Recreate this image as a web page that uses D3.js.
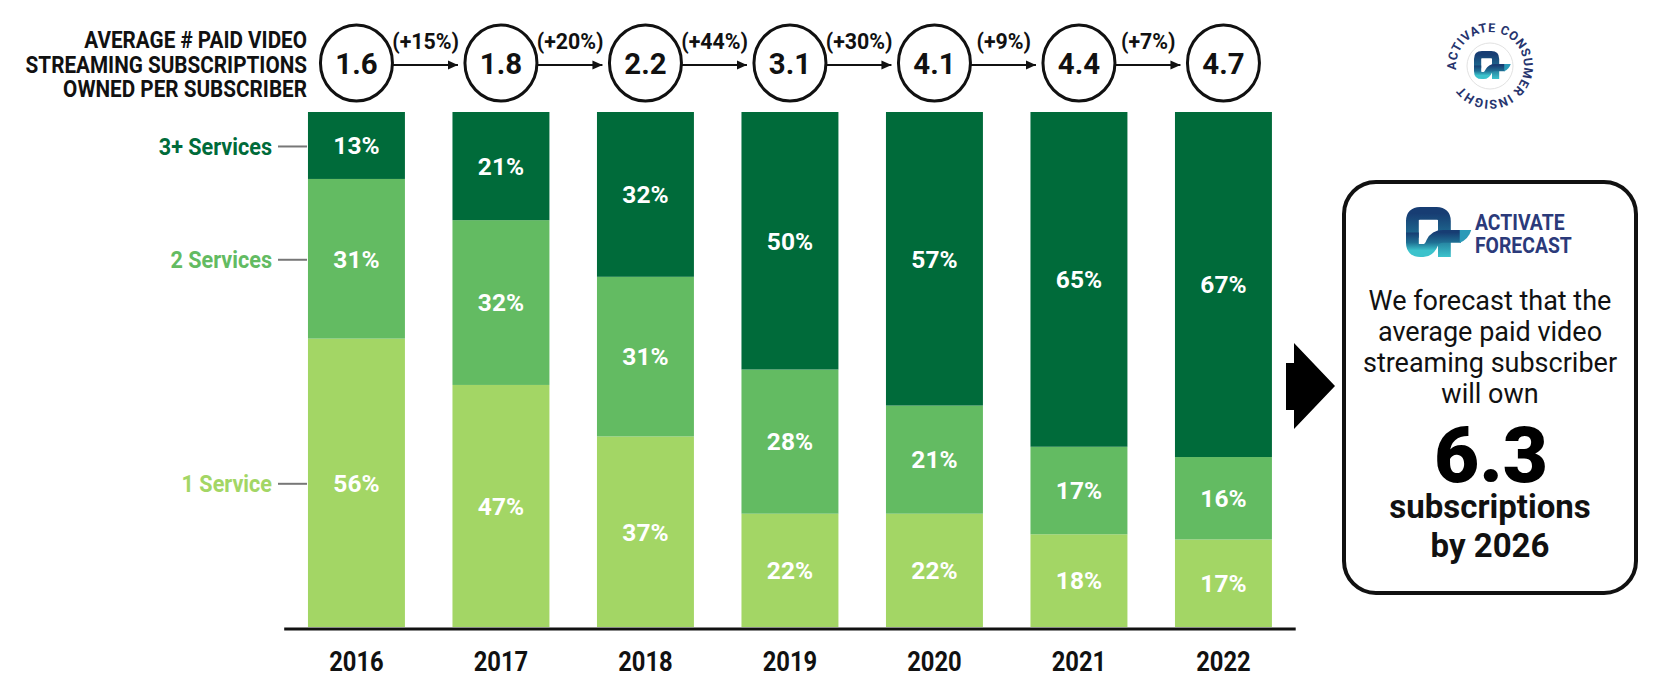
<!DOCTYPE html>
<html><head><meta charset="utf-8">
<script src="https://cdn.jsdelivr.net/npm/d3@7"></script>
<style>html,body{margin:0;padding:0;background:#fff;} svg{display:block;font-family:Roboto,"Noto Sans",sans-serif;}</style>
</head><body><svg id="c" width="1660" height="685"></svg>
<script>
// ---- data ----
const years = ["2016","2017","2018","2019","2020","2021","2022"];
const seriesNames = ["1 Service","2 Services","3+ Services"];
const oneService = [56,47,37,22,22,18,17];
const twoServices = [31,32,31,28,21,17,16];
const threePlus = [13,21,32,50,57,65,67];
const avgSubs = [1.6,1.8,2.2,3.1,4.1,4.4,4.7];
const growthLabels = ["(+15%)","(+20%)","(+44%)","(+30%)","(+9%)","(+7%)"];
const headerLines = ["AVERAGE # PAID VIDEO","STREAMING SUBSCRIPTIONS","OWNED PER SUBSCRIBER"];
const forecastBrand = ["ACTIVATE","FORECAST"];
const forecastLines = ["We forecast that the","average paid video","streaming subscriber","will own"];
const forecastValue = "6.3";
const forecastTail = ["subscriptions","by 2026"];
const ringText = "ACTIVATE CONSUMER INSIGHT";
const colors = ["#a3d665","#63bb62","#006b3a"];

const svg = d3.select("#c");
const rows = years.map((yr,i)=>({year:yr,"1 Service":oneService[i],"2 Services":twoServices[i],"3+ Services":threePlus[i]}));
const stack = d3.stack().keys(seriesNames)(rows);

const x = d3.scaleBand().domain(years).range([284.2,1295.7]).paddingInner(0.329).paddingOuter(0.1645);
const y = d3.scaleLinear().domain([0,100]).range([627,112]);
const color = d3.scaleOrdinal().domain(seriesNames).range(colors);

// defs
const defs = svg.append("defs");
defs.append("marker").attr("id","ah").attr("viewBox","0 0 10 10").attr("refX",10).attr("refY",5)
  .attr("markerWidth",10).attr("markerHeight",10).attr("markerUnits","userSpaceOnUse").attr("orient","auto")
  .append("path").attr("d","M0,0.5 L10,5 L0,9.5 Z").attr("fill","#111");
const grad = defs.append("linearGradient").attr("id","lg").attr("x1",0).attr("y1",0).attr("x2",0).attr("y2",1);
grad.append("stop").attr("offset","0%").attr("stop-color","#173d73");
grad.append("stop").attr("offset","55%").attr("stop-color","#1f6f93");
grad.append("stop").attr("offset","100%").attr("stop-color","#3cc3cc");

// bars
const layers = svg.append("g").selectAll("g").data(stack).join("g").attr("fill",d=>color(d.key));
layers.selectAll("rect").data(d=>d).join("rect")
  .attr("x",d=>x(d.data.year)).attr("width",x.bandwidth())
  .attr("y",d=>y(d[1])).attr("height",d=>y(d[0])-y(d[1]));
// value labels
svg.append("g").selectAll("g").data(stack).join("g").selectAll("text").data(d=>d).join("text")
  .attr("x",d=>x(d.data.year)+x.bandwidth()/2).attr("y",d=>(y(d[0])+y(d[1]))/2).attr("dy","0.36em")
  .attr("text-anchor","middle").attr("fill","#fff").attr("font-weight",700).attr("font-size",24.5)
  .text(d=>(d[1]-d[0])+"%");

// baseline + year axis
svg.append("line").attr("x1",x.range()[0]).attr("x2",x.range()[1]).attr("y1",629).attr("y2",629)
  .attr("stroke","#111").attr("stroke-width",3);
const ax = svg.append("g").attr("transform","translate(0,629)")
  .call(d3.axisBottom(x).tickSize(0).tickPadding(23));
ax.select(".domain").remove();
ax.selectAll("text").attr("font-family","Roboto").attr("font-size",27).attr("font-weight",700)
  .attr("fill","#111").attr("transform","scale(0.88,1)");

// series labels on the left
const first = stack.map(s=>({key:s.key,mid:(y(s[0][0])+y(s[0][1]))/2}));
const sl = svg.append("g").selectAll("g").data(first).join("g").attr("transform",d=>`translate(272,${d.mid+1})`);
sl.append("text").attr("text-anchor","end").attr("dy","0.36em").attr("font-size",24).attr("font-weight",700)
  .attr("fill",d=>color(d.key)).attr("transform","scale(0.9,1)").text(d=>d.key);
sl.append("line").attr("x1",6).attr("x2",35).attr("stroke","#777").attr("stroke-width",2);

// header
const hdr = svg.append("g").selectAll("g").data(headerLines).join("g")
  .attr("transform",(d,i)=>`translate(307,${48+i*24.5})`);
hdr.append("text").attr("text-anchor","end").attr("font-size",23).attr("font-weight",700).attr("fill","#111")
  .attr("transform","scale(0.9,1)").text(d=>d);

const cy = 63, rx = 36, ry = 38;
const cx = d=>x(d)+x.bandwidth()/2;
// arrows + growth labels
const arr = svg.append("g").selectAll("g").data(growthLabels).join("g");
arr.append("line").attr("x1",(d,i)=>cx(years[i])+rx).attr("x2",(d,i)=>cx(years[i+1])-rx-7)
  .attr("y1",cy+2).attr("y2",cy+2).attr("stroke","#111").attr("stroke-width",2).attr("marker-end","url(#ah)");
arr.append("g").attr("transform",(d,i)=>`translate(${(cx(years[i])+cx(years[i+1]))/2-3},49)`)
  .append("text").attr("text-anchor","middle").attr("font-size",22).attr("font-weight",700).attr("fill","#111")
  .attr("transform","scale(0.97,1)").text(d=>d);
// circles
const circ = svg.append("g").selectAll("g").data(avgSubs).join("g").attr("transform",(d,i)=>`translate(${cx(years[i])},${cy})`);
circ.append("ellipse").attr("rx",rx).attr("ry",ry).attr("fill","#fff").attr("stroke","#111").attr("stroke-width",3);
circ.append("text").attr("text-anchor","middle").attr("dy","0.36em").attr("font-size",30).attr("font-weight",700)
  .attr("fill","#111").attr("transform","scale(0.98,1)").text(d=>d.toFixed(1));

// logo glyph
function glyph(g, tx, ty, s){
  const gg = g.append("g").attr("transform",`translate(${tx},${ty}) scale(${s})`);
  gg.append("path").attr("d","M10,48 V22 Q10,10 22,10 H48 Q60,10 60,22 V78")
    .attr("fill","none").attr("stroke","url(#lg)").attr("stroke-width",20);
  gg.append("path").attr("d","M10,40 V56 Q10,68 22,68 H27 Q36,68 41,56 Q46,46 58,46 H86")
    .attr("fill","none").attr("stroke","url(#lg)").attr("stroke-width",20);
  gg.append("path").attr("d","M84,36 L102,36 Q98,50 84,56 Z").attr("fill","#2a9ab8");
}

// top-right ring logo
const ring = svg.append("g").attr("transform","translate(1490,66)");
const r = 34;
ring.append("path").attr("id","ringpath").attr("fill","none")
  .attr("d",`M${-r},0 A${r},${r} 0 1 1 ${r},0 A${r},${r} 0 1 1 ${-r},0`);
ring.append("text").attr("font-size",12.5).attr("font-weight",700).attr("fill","#26346e")
  .append("textPath").attr("href","#ringpath").attr("startOffset",-4).attr("textLength",196)
  .attr("lengthAdjust","spacing").text(ringText);
ring.append("circle").attr("r",23).attr("fill","none").attr("stroke","#e2e2e2").attr("stroke-width",1);
glyph(ring,-16,-15,0.36);

// black arrow
svg.append("path").attr("d","M1286,363 H1294 V343 L1335,386 L1294,429 V410 H1286 Z").attr("fill","#000");

// forecast box
const box = svg.append("g");
box.append("rect").attr("x",1344).attr("y",182).attr("width",292).attr("height",411).attr("rx",32)
  .attr("fill","#fff").attr("stroke","#111").attr("stroke-width",4);
glyph(box,1406,207,0.64);
box.selectAll("g.brand").data(forecastBrand).join("g").attr("class","brand")
  .attr("transform",(d,i)=>`translate(1475,${230+i*23})`)
  .append("text").attr("font-size",22).attr("font-weight",700).attr("fill","#2b3a7a")
  .attr("transform","scale(0.88,1)").text(d=>d);
box.selectAll("text.fl").data(forecastLines).join("text").attr("class","fl")
  .attr("x",1490).attr("y",(d,i)=>310+i*31).attr("text-anchor","middle").attr("font-size",27).attr("fill","#111").text(d=>d);
box.append("text").attr("x",1491).attr("y",482).attr("text-anchor","middle").attr("font-size",78)
  .attr("font-weight",900).attr("fill","#000").text(forecastValue);
box.selectAll("text.ft").data(forecastTail).join("text").attr("class","ft")
  .attr("x",1490).attr("y",(d,i)=>518+i*39).attr("text-anchor","middle").attr("font-size",33)
  .attr("font-weight",700).attr("fill","#111").text(d=>d);
</script></body></html>
